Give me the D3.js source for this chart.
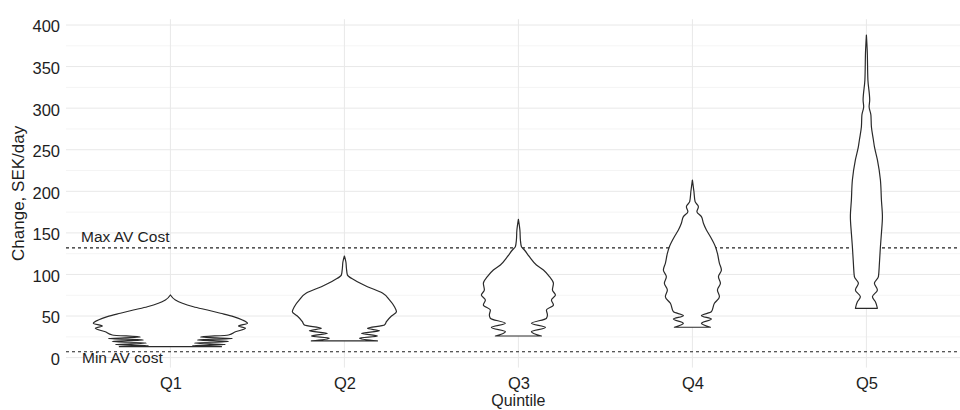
<!DOCTYPE html>
<html>
<head>
<meta charset="utf-8">
<script src="https://cdn.jsdelivr.net/npm/d3@7"></script>
<style>
  body { margin: 0; background: #fff; }
  text { font-family: "Liberation Sans", Arial, sans-serif; fill: #1e1e1e; }
</style>
</head>
<body>
<div id="container"></div>
<script>
/* CONSTANTS AND GLOBALS */
const width = 960;
const height = 410;

/* DATA */
const quintiles = ["Q1", "Q2", "Q3", "Q4", "Q5"];

// violin outlines: change value (SEK/day) and relative density at that value
const q1Values  = [13.1, 14.3, 15.7, 17.5, 19.4, 21.2, 23, 24.8, 27.2, 31.1, 35.2, 38, 41.2, 45.2, 49.2, 53.3, 57.2, 61.2, 65.3, 69.3, 75.3];
const q1Density = [51, 22, 55, 24, 58, 27, 62, 30, 58, 65, 75, 68, 77, 72, 63, 50, 37, 23, 12, 5, 0];

const q2Values  = [20, 23.2, 25.9, 29.2, 32.3, 35.2, 39.2, 43.2, 50, 55.2, 61.2, 69.3, 77.7, 85.3, 93.3, 99.3, 107.8, 115, 122.2];
const q2Density = [33, 15, 33, 17, 35, 23, 40, 42, 47, 52, 50, 45, 38, 23, 10, 3, 2, 1.5, 0];

const q3Values  = [26, 31.1, 36.2, 41.2, 47.2, 51.2, 57.2, 63.3, 69.3, 75.3, 81.3, 89.3, 97.3, 105.3, 111.4, 121.3, 129.4, 133.4, 141.4, 153.4, 166.3];
const q3Density = [23, 13, 27, 13, 28, 29, 28, 35, 33, 37, 34, 35, 31, 25, 18, 11, 6, 3, 2, 1.5, 0];

const q4Values  = [36.5, 41.2, 46.4, 50.4, 55.2, 65.3, 73.2, 81.3, 89.3, 97.3, 105.3, 113.4, 125.4, 133.4, 145.4, 153.4, 161.5, 169.5, 175.5, 181.5, 187.5, 200, 213.6];
const q4Density = [18, 9, 19, 9, 19, 22, 27, 25, 28, 26, 29, 27, 25, 23, 18, 14, 11, 9, 4.5, 6, 2.7, 1.5, 0];

const q5Values  = [59.3, 67.2, 73.2, 81.3, 89.3, 97.3, 113.4, 133.4, 149.5, 169.5, 189.5, 213.6, 237.7, 253.7, 261.7, 277.7, 291.8, 301.8, 309.8, 333.9, 370, 388];
const q5Density = [11, 9, 6, 11, 8, 12, 13, 14, 15, 16, 15, 14, 11, 8, 7, 5, 4.5, 2.7, 3.3, 1.5, 0.8, 0];

const yTicks = [0, 50, 100, 150, 200, 250, 300, 350, 400];
const yMinorTicks = [25, 75, 125, 175, 225, 275, 325, 375];
const yLimits = [-12, 407];

const minAvCost = 7;
const maxAvCost = 132;

const violins = [
  { q: "Q1", values: q1Values, density: q1Density },
  { q: "Q2", values: q2Values, density: q2Density },
  { q: "Q3", values: q3Values, density: q3Density },
  { q: "Q4", values: q4Values, density: q4Density },
  { q: "Q5", values: q5Values, density: q5Density }
];

/* SCALES */
const xScale = d3.scalePoint()
  .domain(quintiles)
  .range([66, 970.8])
  .padding(0.6);

const yScale = d3.scaleLinear()
  .domain([0, 400])
  .range([357.6, 25]);

const maxDensity = d3.max(violins, v => d3.max(v.density));
const wScale = d3.scaleLinear()
  .domain([0, maxDensity])
  .range([0, xScale.step() * 0.443]);

const panelLeft = 66;
const panelTop = yScale(yLimits[1]);
const panelBottom = yScale(yLimits[0]);

/* SVG */
const svg = d3.select("#container")
  .append("svg")
  .attr("width", width)
  .attr("height", height);

// grid
svg.selectAll(".minor-grid")
  .data(yMinorTicks)
  .join("line")
  .attr("class", "minor-grid")
  .attr("x1", panelLeft).attr("x2", width)
  .attr("y1", d => yScale(d)).attr("y2", d => yScale(d))
  .attr("stroke", "#f1f1f1")
  .attr("stroke-width", 0.8);

svg.selectAll(".major-grid")
  .data(yTicks)
  .join("line")
  .attr("class", "major-grid")
  .attr("x1", panelLeft).attr("x2", width)
  .attr("y1", d => yScale(d)).attr("y2", d => yScale(d))
  .attr("stroke", "#e8e8e8")
  .attr("stroke-width", 1);

svg.selectAll(".x-grid")
  .data(quintiles)
  .join("line")
  .attr("class", "x-grid")
  .attr("x1", d => xScale(d)).attr("x2", d => xScale(d))
  .attr("y1", panelTop).attr("y2", panelBottom)
  .attr("stroke", "#e8e8e8")
  .attr("stroke-width", 1);

// reference lines
[minAvCost, maxAvCost].forEach(v => {
  svg.append("line")
    .attr("x1", panelLeft).attr("x2", width)
    .attr("y1", yScale(v)).attr("y2", yScale(v))
    .attr("stroke", "#222")
    .attr("stroke-width", 1.1)
    .attr("stroke-dasharray", "3,3");
});

// violins
violins.forEach(v => {
  const cx = xScale(v.q);
  const pts = v.values.map((val, i) => ({ val: val, d: v.density[i] })).reverse();
  const area = d3.area()
    .curve(d3.curveMonotoneY)
    .y(p => yScale(p.val))
    .x0(p => cx - wScale(p.d))
    .x1(p => cx + wScale(p.d));
  svg.append("path")
    .datum(pts)
    .attr("d", area)
    .attr("fill", "#fff")
    .attr("stroke", "#2a2a2a")
    .attr("stroke-width", 1.2)
    .attr("stroke-linejoin", "round");
});

// annotations
svg.append("text")
  .attr("x", 81).attr("y", yScale(maxAvCost) - 6)
  .style("font-size", "15.5px")
  .text("Max AV Cost");

svg.append("text")
  .attr("x", 82).attr("y", yScale(minAvCost) + 11.5)
  .style("font-size", "15.5px")
  .text("Min AV cost");

/* AXIS */
const yAxis = d3.axisLeft(yScale)
  .tickValues(yTicks)
  .tickSize(0)
  .tickPadding(6);

const yAxisG = svg.append("g")
  .attr("transform", `translate(${panelLeft}, 0)`)
  .call(yAxis);
yAxisG.select(".domain").remove();
yAxisG.selectAll("text")
  .attr("dy", "0.42em")
  .style("font-size", "16.5px")
  .style("font-family", "'Liberation Sans', Arial, sans-serif")
  .attr("fill", "#1e1e1e");

const xAxis = d3.axisBottom(xScale)
  .tickSize(0)
  .tickPadding(10);

const xAxisG = svg.append("g")
  .attr("transform", `translate(0, ${panelBottom})`)
  .call(xAxis);
xAxisG.select(".domain").remove();
xAxisG.selectAll("text")
  .style("font-size", "16.5px")
  .style("font-family", "'Liberation Sans', Arial, sans-serif")
  .attr("fill", "#1e1e1e");

// axis titles
svg.append("text")
  .attr("text-anchor", "middle")
  .attr("x", xScale("Q3"))
  .attr("y", 405.5)
  .style("font-size", "16px")
  .text("Quintile");

svg.append("text")
  .attr("text-anchor", "middle")
  .attr("transform", `translate(24, ${(panelTop + panelBottom) / 2}) rotate(-90)`)
  .style("font-size", "17px")
  .text("Change, SEK/day");
</script>
</body>
</html>
